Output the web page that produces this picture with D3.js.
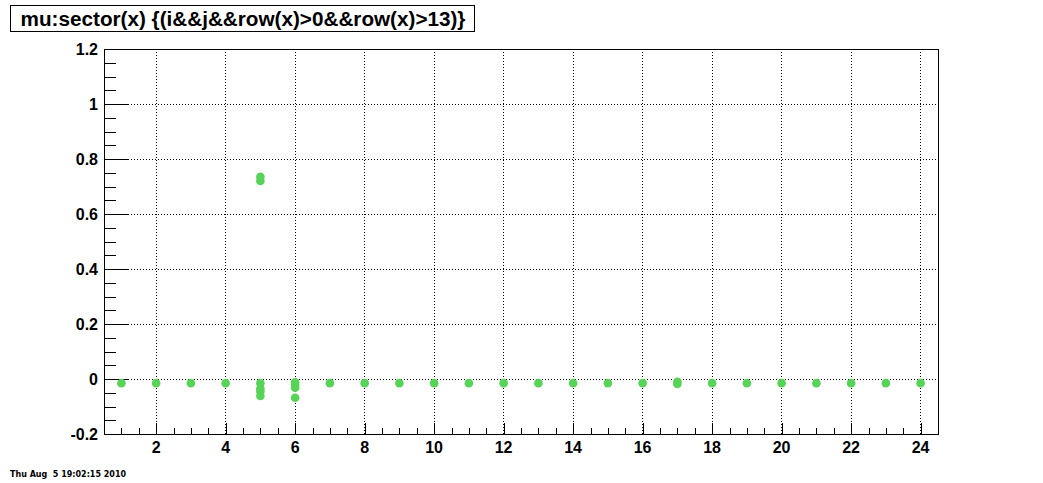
<!DOCTYPE html>
<html>
<head>
<meta charset="utf-8">
<script src="https://cdn.jsdelivr.net/npm/d3@7"></script>
<style>
  body { margin: 0; background: #fff; }
  svg { display: block; font-family: "Liberation Sans", Arial, sans-serif; }
</style>
</head>
<body>
<svg width="1043" height="483"></svg>
<script>
// sector number and mu value
var sectors = [1, 2, 3, 4, 5, 5, 5, 5, 5, 5, 6, 6, 6, 6, 7, 8, 9, 10, 11, 12, 13, 14, 15, 16, 17, 17, 18, 19, 20, 21, 22, 23, 24];
var muValues = [-0.015, -0.015, -0.015, -0.015, 0.735, 0.72, -0.015, -0.035, -0.045, -0.062, -0.012, -0.022, -0.032, -0.068, -0.015, -0.015, -0.015, -0.015, -0.015, -0.015, -0.015, -0.015, -0.015, -0.015, -0.01, -0.018, -0.015, -0.015, -0.015, -0.015, -0.015, -0.015, -0.015];
var xTicks = [2, 4, 6, 8, 10, 12, 14, 16, 18, 20, 22, 24];
var yTicks = [-0.2, 0, 0.2, 0.4, 0.6, 0.8, 1, 1.2];
var yLabels = ["-0.2", "0", "0.2", "0.4", "0.6", "0.8", "1", "1.2"];
var titleText = "mu:sector(x) {(i&&j&&row(x)>0&&row(x)>13)}";
var stampText = "Thu Aug  5 19:02:15 2010";

var svg = d3.select("svg");
var margin = {left: 104, top: 49, right: 105, bottom: 49};
var width = 1043 - margin.left - margin.right;
var height = 483 - margin.top - margin.bottom;

var x = d3.scaleLinear().domain([0.5, 24.5]).range([0, width]);
var y = d3.scaleLinear().domain([-0.2, 1.2]).range([height, 0]);

var g = svg.append("g").attr("transform", "translate(" + margin.left + "," + margin.top + ")");

// grid
g.selectAll(".vgrid").data(xTicks).enter().append("line")
  .attr("x1", function(d){ return x(d); }).attr("x2", function(d){ return x(d); })
  .attr("y1", 0).attr("y2", height)
  .attr("stroke", "#000").attr("stroke-width", 1).attr("stroke-dasharray", "1,2")
  .attr("shape-rendering", "crispEdges");
g.selectAll(".hgrid").data(yTicks).enter().append("line")
  .attr("x1", 0).attr("x2", width)
  .attr("y1", function(d){ return y(d); }).attr("y2", function(d){ return y(d); })
  .attr("stroke", "#000").attr("stroke-width", 1).attr("stroke-dasharray", "1,2")
  .attr("shape-rendering", "crispEdges");

// axes: major ticks, minor ticks
var xMinor = d3.range(1, 24.01, 0.5).filter(function(d){ return d % 2 != 0; });
var yMinor = d3.range(-0.15, 1.2, 0.05).filter(function(d){ return Math.abs(Math.round(d*5) - d*5) > 0.01; });

g.append("g").attr("transform", "translate(0," + height + ")")
  .call(d3.axisTop(x).tickValues(xTicks).tickSize(11).tickFormat(""));
g.append("g").attr("transform", "translate(0," + height + ")")
  .call(d3.axisTop(x).tickValues(xMinor).tickSize(6).tickFormat(""));
g.append("g").call(d3.axisRight(y).tickValues(yTicks).tickSize(25).tickFormat(""));
g.append("g").call(d3.axisRight(y).tickValues(yMinor).tickSize(12).tickFormat(""));
g.selectAll(".domain").remove();
g.selectAll(".tick line").attr("stroke", "#000").attr("shape-rendering", "crispEdges");

// tick labels
g.selectAll(".xlab").data(xTicks).enter().append("text")
  .attr("x", function(d){ return x(d); }).attr("y", height + 19)
  .attr("text-anchor", "middle").attr("font-size", 16).attr("font-weight", "bold")
  .text(function(d){ return d; });
g.selectAll(".ylab").data(yTicks).enter().append("text")
  .attr("x", -6).attr("y", function(d){ return y(d) + 6; })
  .attr("text-anchor", "end").attr("font-size", 16).attr("font-weight", "bold")
  .text(function(d, i){ return yLabels[i]; });

// frame
g.append("rect").attr("x", 0).attr("y", 0).attr("width", width).attr("height", height)
  .attr("fill", "none").attr("stroke", "#000").attr("shape-rendering", "crispEdges");

// points
g.selectAll("circle").data(sectors).enter().append("circle")
  .attr("cx", function(d){ return x(d); })
  .attr("cy", function(d, i){ return y(muValues[i]); })
  .attr("r", 4.3)
  .attr("fill", "#57d357");

// title box
svg.append("rect").attr("x", 10.5).attr("y", 5.5).attr("width", 464).attr("height", 26)
  .attr("fill", "#fff").attr("stroke", "#000");
svg.append("text").attr("x", 243).attr("y", 26)
  .attr("text-anchor", "middle").attr("font-size", 20.7).attr("font-weight", "bold")
  .text(titleText);

svg.append("text").attr("x", 10).attr("y", 477)
  .attr("font-size", 8).attr("font-weight", "bold")
  .attr("font-family", "DejaVu Sans, sans-serif")
  .attr("xml:space", "preserve").style("white-space", "pre")
  .text(stampText);
</script>
</body>
</html>
